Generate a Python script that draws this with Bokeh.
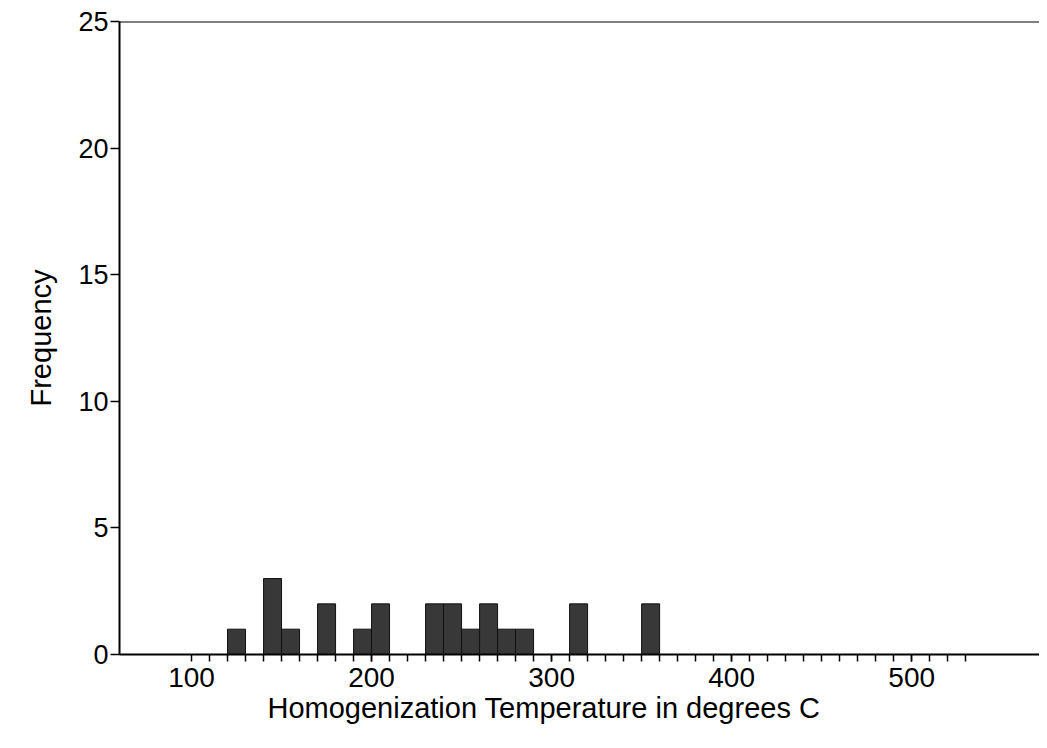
from bokeh.plotting import figure
from bokeh.models import Range1d, FixedTicker, Span, ColumnDataSource, Title
from bokeh.embed import file_html
from bokeh.resources import INLINE

# Histogram data (bins of 10 degrees C)
bin_starts = [120, 140, 150, 170, 190, 200, 230, 240, 250, 260, 270, 280, 310, 350]
frequency = [1, 3, 1, 2, 1, 2, 2, 2, 1, 2, 1, 1, 2, 2]
bin_width = 10

x_major_ticks = [100, 200, 300, 400, 500]
x_minor_ticks = list(range(110, 531, 10))
y_ticks = [0, 5, 10, 15, 20, 25]
x_title = "Homogenization Temperature in degrees C"
y_title = "Frequency"

src = ColumnDataSource(dict(
    left=bin_starts,
    right=[b + bin_width for b in bin_starts],
    top=frequency,
    bottom=[0] * len(frequency),
))

FONT = "Liberation Sans"

p = figure(width=1039, height=740, output_backend="svg", toolbar_location=None,
           x_range=Range1d(60, 571), y_range=Range1d(0, 25),
           min_border_left=119, min_border_top=21, min_border_bottom=86, min_border_right=0)

p.quad(left="left", right="right", top="top", bottom="bottom", source=src,
       fill_color="#383838", line_color="#111111", line_width=1)

p.xgrid.visible = False
p.ygrid.visible = False
p.outline_line_color = None
p.background_fill_color = "white"
p.border_fill_color = "white"

# top line of the frame
p.add_layout(Span(location=25, dimension="width", line_color="black", line_width=2))

xa = p.xaxis[0]
xa.ticker = FixedTicker(ticks=x_major_ticks, minor_ticks=x_minor_ticks)
xa.major_label_text_font = FONT
xa.major_label_text_font_size = "28px"
xa.major_label_text_color = "black"
xa.major_label_standoff = 6
xa.axis_line_width = 2
xa.axis_line_color = "black"
xa.major_tick_in = 0
xa.major_tick_out = 7
xa.minor_tick_in = 0
xa.minor_tick_out = 7
xa.major_tick_line_width = 1.5
xa.minor_tick_line_width = 1.5

# x-axis title placed as in the original (left of frame centre)
p.add_layout(Title(text=x_title, align="left", offset=148, standoff=0,
                   text_font=FONT, text_font_size="29px", text_font_style="normal",
                   text_color="black"), "below")

ya = p.yaxis[0]
ya.ticker = FixedTicker(ticks=y_ticks, minor_ticks=[])
ya.axis_label = y_title
ya.axis_label_text_font = FONT
ya.axis_label_text_font_style = "normal"
ya.axis_label_text_font_size = "29px"
ya.axis_label_text_color = "black"
ya.axis_label_standoff = 18
ya.major_label_text_font = FONT
ya.major_label_text_font_size = "27px"
ya.major_label_text_color = "black"
ya.major_label_standoff = 2
ya.axis_line_width = 2
ya.axis_line_color = "black"
ya.major_tick_in = 0
ya.major_tick_out = 9
ya.major_tick_line_width = 1.5

open("out.html", "w").write(file_html(p, INLINE))
